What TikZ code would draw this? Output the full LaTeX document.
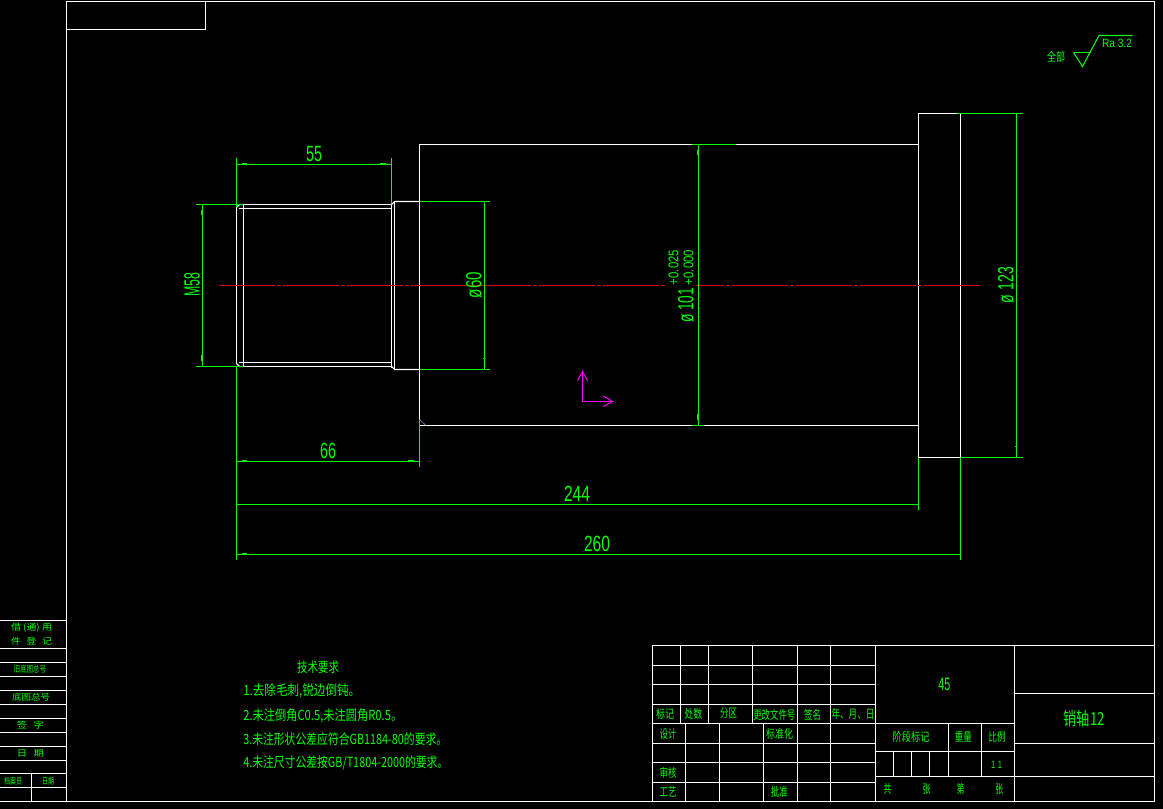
\documentclass[tikz,border=0pt]{standalone}
\usepackage{fontspec}
\usepackage{graphicx}
\setmainfont{Liberation Sans}
\newfontfamily\cjk{Noto Sans CJK SC}
\usetikzlibrary{calc, positioning}
\definecolor{cadgreen}{RGB}{0,255,0}
\definecolor{cadred}{RGB}{225,0,0}
\definecolor{cadpink}{RGB}{255,0,255}
\newdimen\pxu
\pxu=.75pt
\newcommand{\fitw}[2]{\resizebox{#1\pxu}{\height}{#2}}
\tikzset{
  part/.style={draw=white, line width=.8pt},
  dimline/.style={draw=cadgreen, line width=.8pt},
  axisline/.style={draw=cadred, line width=.75pt, dash pattern=on 42pt off 1.5pt on 3pt off 1.5pt},
  ucsline/.style={draw=cadpink, line width=.75pt},
  dimtext/.style={text=cadgreen, inner sep=0pt, font=\fontsize{16.5}{16.5}\selectfont},
  cadtext/.style={text=cadgreen, inner sep=0pt, font=\cjk\fontsize{9}{10}\selectfont},
  sidetext/.style={text=cadgreen, inner sep=0pt, font=\cjk\fontsize{6.5}{7}\selectfont},
  notetext/.style={text=cadgreen, inner sep=0pt, anchor=west, font=\cjk\fontsize{10.5}{11}\selectfont}
}
\begin{document}
\begin{tikzpicture}[x=.75pt,y=-.75pt]
\fill[black] (0,0) rectangle (1163,809);
\useasboundingbox (0,0) rectangle (1163,809);
% frame
\draw[part] (66.5,801.5) -- (66.5,1.5) -- (1154.5,1.5) -- (1154.5,801.5);
\draw[part] (0,801.5) -- (1154.5,801.5);
\draw[part] (66.5,29.5) -- (205.5,29.5) -- (205.5,1.5);
% side table
\draw[part] \foreach \y in {620.5,648.5,662.5,676.5,690.5,704.5,718.5,732.5,746.5,760.5,773.5,787.5} {(0,\y) -- (66.5,\y)};
\draw[part] (31.5,773.5) -- (31.5,801.5);
% title block
\draw[part] (652.5,645.5) rectangle (1154.5,801.5);
\draw[part] \foreach \y in {665.5,684.5,704.5,723.5,743.5,762.5,782.5} {(652.5,\y) -- (875.5,\y)};
\draw[part] \foreach \x in {680.5,708.5,752.5} {(\x,645.5) -- (\x,723.5)};
\draw[part] \foreach \x in {797.5,830.5,875.5} {(\x,645.5) -- (\x,801.5)};
\draw[part] \foreach \x in {685.5,719.5,763.5} {(\x,723.5) -- (\x,801.5)};
\draw[part] (1014.5,645.5) -- (1014.5,801.5);
\draw[part] \foreach \y in {723.5,751.5,776.5} {(875.5,\y) -- (1014.5,\y)};
\draw[part] \foreach \x in {948.5,981.5} {(\x,723.5) -- (\x,776.5)};
\draw[part] \foreach \x in {893.5,911.5,929.5} {(\x,751.5) -- (\x,776.5)};
\draw[part] \foreach \y in {693.5,743.5,776.5} {(1014.5,\y) -- (1154.5,\y)};
% shaft
\draw[part] (243.5,204.5) -- (391.5,204.5);
\draw[part] (238.5,208.5) -- (391.5,208.5);
\draw[part] (243.5,366.5) -- (391.5,366.5);
\draw[part] (238.5,362.5) -- (391.5,362.5);
\draw[part] (236.5,207.5) -- (236.5,363.5);
\draw[part] (243.5,204.5) -- (243.5,366.5);
\draw[part] (236.5,207.5) -- (239.5,204.5) -- (243.5,204.5);
\draw[part] (236.5,363.5) -- (239.5,366.5) -- (243.5,366.5);
\draw[part] (391.5,203.5) -- (391.5,367.5);
\draw[part] (391.5,204.5) -- (394.5,201.5) -- (419.5,201.5);
\draw[part] (391.5,366.5) -- (394.5,369.5) -- (419.5,369.5);
\draw[part] (394.5,201.5) -- (394.5,369.5);
\draw[part] (419.5,419.5) -- (419.5,144.5) -- (918.5,144.5);
\draw[part] (419.5,425.5) -- (918.5,425.5);
\draw[part] (918.5,113.5) rectangle (960.5,457.5);
\draw[gray, line width=.5pt] (419.5,419.5) -- (426,425.5);
% axis
\draw[axisline] (219,285.5) -- (665,285.5);
\draw[axisline, dash phase=21pt] (696,285.5) -- (982,285.5);
% dimensions
\draw[dimline] (236.5,158) -- (236.5,207);
\draw[dimline] (391.5,158) -- (391.5,204);
\draw[dimline] (236.5,164.5) -- (391.5,164.5);
\draw[dimline] (196,204.5) -- (243,204.5);
\draw[dimline] (196,366.5) -- (243,366.5);
\draw[dimline] (202.5,204.5) -- (202.5,366.5);
\draw[dimline] (419.5,201.5) -- (490,201.5);
\draw[dimline] (419.5,369.5) -- (490,369.5);
\draw[dimline] (484.5,201.5) -- (484.5,369.5);
\draw[dimline] (692,144.5) -- (736,144.5);
\draw[dimline] (692,425.5) -- (704,425.5);
\draw[dimline] (698.5,144.5) -- (698.5,425.5);
\draw[dimline] (957,113.5) -- (1023,113.5);
\draw[dimline] (960.5,457.5) -- (1023,457.5);
\draw[dimline] (1016.5,113.5) -- (1016.5,457.5);
\draw[dimline] (236.5,366.5) -- (236.5,560);
\draw[dimline] (419.5,419.5) -- (419.5,466.7);
\draw[dimline] (918.5,457.5) -- (918.5,510);
\draw[dimline] (960.5,457.5) -- (960.5,560);
\draw[dimline] (236.5,461.5) -- (419.5,461.5);
\draw[dimline] (236.5,504.5) -- (918.5,504.5);
\draw[dimline] (236.5,554.5) -- (960.5,554.5);
% ticks
\draw[dimline] (242,163.5) -- (247,163.5);
\draw[dimline] (380,163.5) -- (386,163.5);
\draw[dimline] (201.5,210) -- (201.5,215);
\draw[dimline] (201.5,355) -- (201.5,361);
\draw[dimline] (483.5,357.5) -- (483.5,358.5);
\draw[dimline] (697.5,150) -- (697.5,155);
\draw[dimline] (697.5,414) -- (697.5,420);
\draw[dimline] (1015.5,445.5) -- (1015.5,446.5);
\draw[dimline] (242,460.5) -- (247,460.5);
\draw[dimline] (408,460.5) -- (414,460.5);
\draw[dimline] (242,553.5) -- (247,553.5);
% ucs
\coordinate (ucso) at (582.5,401.5);
\draw[ucsline] (577.5,380.5) -- (582.5,371.5) -- (587.5,380.5);
\draw[ucsline] (603.5,396) -- (612.5,401.5) -- (603.5,406.5);
\draw[ucsline] (582.5,371.5) -- (ucso) -- (612.5,401.5);
% roughness
\draw[dimline] (1073.5,52.5) -- (1090,52.5);
\draw[dimline] (1073.5,52.5) -- (1082.5,66.5) -- (1099,35.5) -- (1132.5,35.5);
\node[cadtext] (roughall) at (1056,57) {\fitw{18}{全部}};
\node[dimtext, font=\fontsize{9}{10}\selectfont] (roughval) at (1117,43.5) {\fitw{30}{Ra 3.2}};
% dimension labels
\node[dimtext] (dimA) at (314,154) {\fitw{16}{55}};
\node[dimtext] (dimB) at (328,451) {\fitw{16}{66}};
\node[dimtext] (dimC) at (577,494) {\fitw{26}{244}};
\node[dimtext] (dimD) at (597,544) {\fitw{26}{260}};
\node[dimtext, rotate=90] (dimE) at (192,285) {\fitw{24}{M58}};
\node[dimtext, rotate=90] (dimF) at (474,285) {\fitw{26}{ø60}};
\node[dimtext, rotate=90] (dimG) at (686,305.5) {\fitw{35}{ø 101}};
\node[dimtext, rotate=90, font=\fontsize{10.5}{11}\selectfont] (dimH) at (673.5,267.5) {\fitw{35}{+0.025}};
\node[dimtext, rotate=90, font=\fontsize{10.5}{11}\selectfont] (dimI) at (688.5,267.5) {\fitw{35}{+0.000}};
\node[dimtext, rotate=90] (dimJ) at (1006,285) {\fitw{36}{ø 123}};
% notes
\node[cadtext, font=\cjk\fontsize{10.5}{11}\selectfont] (notehead) at (318,667.5) {\fitw{42}{技术要求}};
\node[notetext] (noteA) at (243,691) {\fitw{117}{1.去除毛刺,锐边倒钝。}};
\node[notetext] (noteB) at (243,716) {\fitw{159}{2.未注倒角C0.5,未注圆角R0.5。}};
\node[notetext] (noteC) at (243,739) {\fitw{204}{3.未注形状公差应符合GB1184-80的要求。}};
\node[notetext] (noteD) at (243,762.5) {\fitw{205}{4.未注尺寸公差按GB/T1804-2000的要求。}};
% side table labels
\node[sidetext] (sideA) at (31.5,627.7) {\fitw{41}{借 (通) 用}};
\node[sidetext] (sideB) at (31.5,641) {\fitw{41}{件 \, 登 \, 记}};
\node[sidetext] (sideC) at (30,669) {\fitw{32}{旧底图总号}};
\node[sidetext] (sideD) at (31,697) {\fitw{38}{底图总号}};
\node[sidetext] (sideE) at (30.5,725) {\fitw{27}{签 \, 字}};
\node[sidetext] (sideF) at (30.5,753) {\fitw{27}{日 \, 期}};
\node[sidetext] (sideG) at (13,781) {\fitw{18}{档案员}};
\node[sidetext] (sideH) at (48,781) {\fitw{12}{日期}};
% title block labels
\node[cadtext] (tbA) at (665,714) {\fitw{18}{标记}};
\node[cadtext] (tbB) at (693.3,714) {\fitw{18}{处数}};
\node[cadtext] (tbC) at (728.7,713.5) {\fitw{17}{分区}};
\node[cadtext] (tbD) at (774.3,714.5) {\fitw{42}{更改文件号}};
\node[cadtext] (tbE) at (812.7,714.5) {\fitw{17}{签名}};
\node[cadtext] (tbF) at (853,714) {\fitw{43}{年、月、日}};
\node[cadtext] (tbG) at (668,733.5) {\fitw{17}{设计}};
\node[cadtext] (tbH) at (779.7,733.5) {\fitw{27}{标准化}};
\node[cadtext] (tbI) at (668,772.5) {\fitw{17}{审核}};
\node[cadtext] (tbJ) at (668,792) {\fitw{17}{工艺}};
\node[cadtext] (tbK) at (779.3,792) {\fitw{17}{批准}};
\node[dimtext, font=\fontsize{13.5}{14}\selectfont] (tbL) at (944.3,684.7) {\fitw{12}{45}};
\node[cadtext] (tbM) at (911,737.3) {\fitw{37}{阶段标记}};
\node[cadtext] (tbN) at (963.3,737) {\fitw{17}{重量}};
\node[cadtext] (tbO) at (997,737.3) {\fitw{17}{比例}};
\node[dimtext, font=\fontsize{8}{9}\selectfont] (tbP) at (996.7,765) {\fitw{11}{1\,\,1}};
\node[cadtext] (tbQ) at (887.7,789.3) {\fitw{8}{共}};
\node[cadtext] (tbR) at (926.7,789.3) {\fitw{8}{张}};
\node[cadtext] (tbS) at (960.7,789.3) {\fitw{8}{第}};
\node[cadtext] (tbT) at (999.3,789.3) {\fitw{8}{张}};
\node[cadtext, font=\cjk\fontsize{13.5}{15}\selectfont] (tbU) at (1084.3,718.3) {\fitw{41}{销轴12}};
\end{tikzpicture}
\end{document}
